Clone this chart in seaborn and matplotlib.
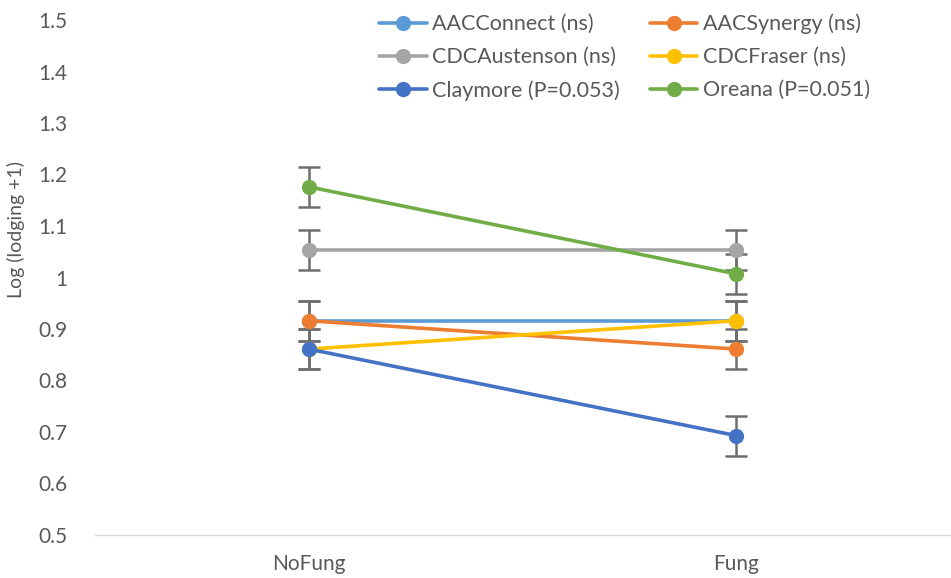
import matplotlib
matplotlib.use("Agg")
import matplotlib.pyplot as plt
import matplotlib.ticker as mticker
import seaborn as sns
import pandas as pd

# Treatments and cultivar means (log-transformed lodging)
treatments = ["NoFung", "Fung"]
cultivars = ["AACConnect (ns)", "AACSynergy (ns)", "CDCAustenson (ns)",
             "CDCFraser (ns)", "Claymore (P=0.053)", "Oreana (P=0.051)"]
aacconnect = [0.916, 0.916]
aacsynergy = [0.916, 0.861]
cdcaustenson = [1.053, 1.053]
cdcfraser = [0.861, 0.916]
claymore = [0.861, 0.693]
oreana = [1.176, 1.007]
std_err = 0.039

colors = ["#5B9BD5", "#ED7D31", "#A5A5A5", "#FFC000", "#4472C4", "#70AD47"]

series = [aacconnect, aacsynergy, cdcaustenson, cdcfraser, claymore, oreana]
rows = []
for name, vals in zip(cultivars, series):
    for t, v in zip(treatments, vals):
        rows.append({"Treatment": t, "Cultivar": name, "Value": v})
df = pd.DataFrame(rows)

sns.set_theme(style="white")
plt.rcParams["font.family"] = ["Lato", "DejaVu Sans"]
plt.rcParams["text.color"] = "#595959"

fig = plt.figure(figsize=(9.51, 5.78), dpi=100)
ax = fig.add_axes([95 / 951, 1 - 535 / 578, 855 / 951, 515 / 578])

# error bars first so markers sit on top
xpos = {t: i for i, t in enumerate(treatments)}
for name, vals in zip(cultivars, series):
    ax.errorbar([xpos[t] for t in treatments], vals, yerr=std_err, fmt="none",
                ecolor="#6E6E6E", elinewidth=1.8, capsize=8, capthick=1.8, zorder=1)

sns.lineplot(data=df, x="Treatment", y="Value", hue="Cultivar", hue_order=cultivars,
             palette=colors, marker="o", markersize=11, markeredgewidth=0,
             linewidth=2.6, sort=False, ax=ax, zorder=3)

ax.set_xlim(-0.5, 1.5)
ax.set_ylim(0.5, 1.5)
ax.yaxis.set_major_locator(mticker.MultipleLocator(0.1))
ax.yaxis.set_major_formatter(mticker.FuncFormatter(lambda v, p: f"{v:g}"))
ax.tick_params(axis="both", length=0, labelsize=15, labelcolor="#595959")
ax.tick_params(axis="y", pad=20)
ax.tick_params(axis="x", pad=14)

for s in ["top", "right", "left"]:
    ax.spines[s].set_visible(False)
ax.spines["bottom"].set_color("#D9D9D9")
ax.spines["bottom"].set_linewidth(1.0)
ax.grid(False)

ax.set_xlabel("")
ax.set_ylabel("Log (lodging +1)", fontsize=14, color="#595959")
ax.yaxis.set_label_coords(-0.082, 0.594)

handles, labels = ax.get_legend_handles_labels()
order = [0, 2, 4, 1, 3, 5]
leg = ax.legend([handles[i] for i in order], [labels[i] for i in order],
                ncol=2, loc="upper left", bbox_to_anchor=(0.31, 1.05),
                frameon=False, fontsize=15.5, handlelength=2.2, columnspacing=1.4,
                labelspacing=0.6, handletextpad=0.25)
for t in leg.get_texts():
    t.set_color("#595959")

fig.savefig("out.png", dpi=100)
